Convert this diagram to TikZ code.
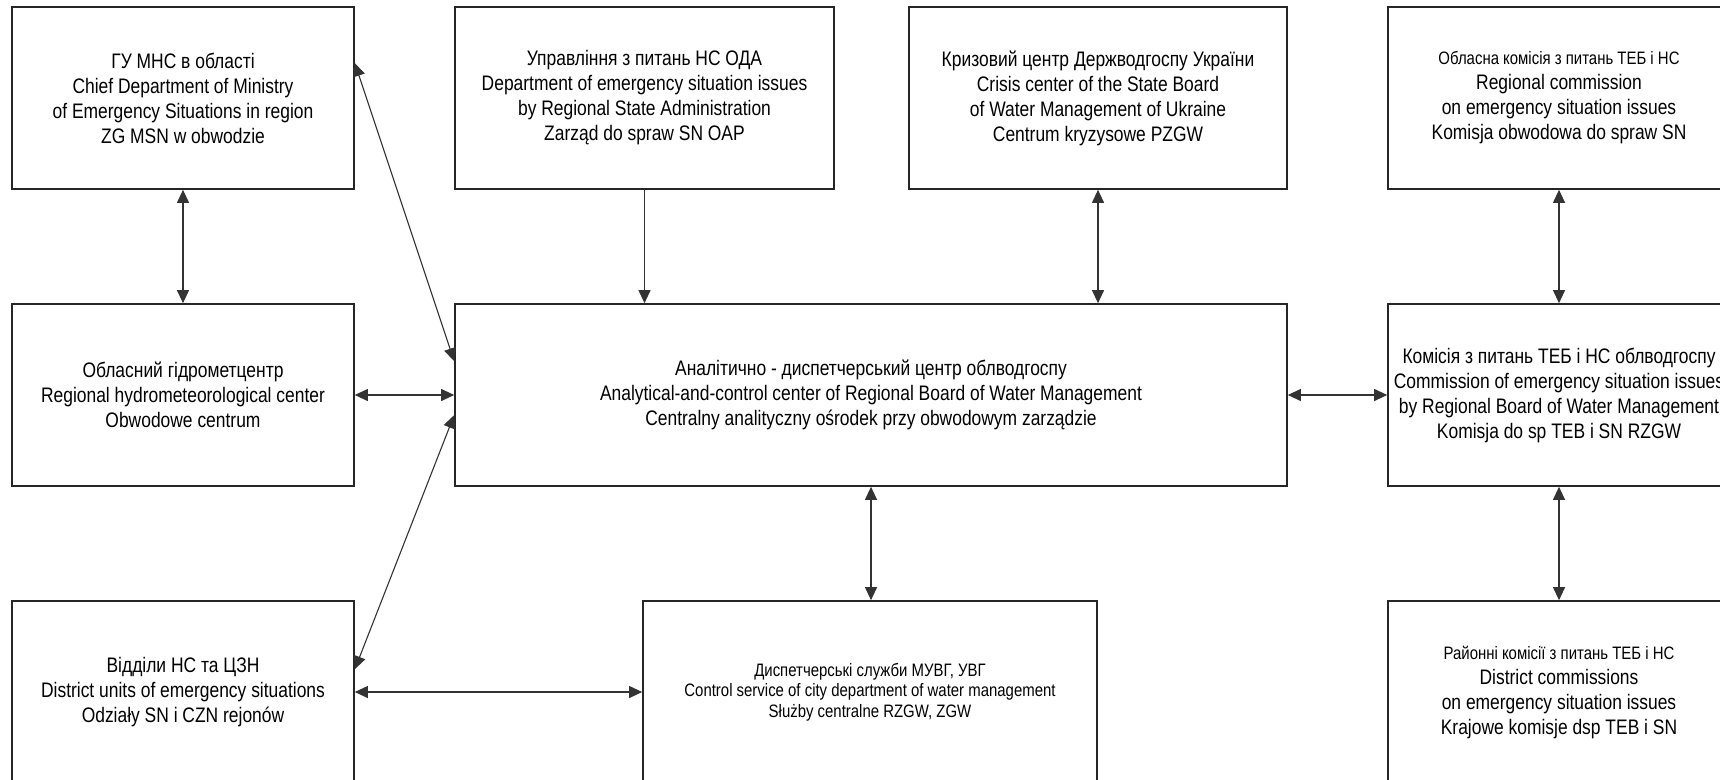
\documentclass[tikz,border=0pt]{standalone}
\usepackage{fontspec}
\setmainfont{Liberation Sans}[FakeStretch=0.83]
\usetikzlibrary{arrows.meta,calc}
\begin{document}
\begin{tikzpicture}[x=1pt,y=-1pt,
  box/.style={draw=black!85,line width=1.7pt,rectangle,inner sep=0pt,
    minimum height=182pt,align=center,
    font=\fontsize{21}{25}\selectfont},
  nbox/.style={box,minimum width=342pt},
  small/.style={font=\fontsize{18}{20.5}\selectfont},
  conn/.style={draw=black!80,line width=1.1pt},
  bi/.style={conn,{Triangle[length=13pt,width=12pt]}-{Triangle[length=13pt,width=12pt]}},
  uni/.style={conn,-{Triangle[length=13pt,width=12pt]}}]
\useasboundingbox (0,0) rectangle (1720,779);
\clip (0,0) rectangle (1720,779);
\fill[white] (0,0) rectangle (1720,779);

% top row
\node[nbox] (A) at (183,98) {ГУ МНС в області\\Chief Department of Ministry\\of Emergency Situations in region\\ZG MSN w obwodzie};
\node[box,minimum width=379pt] (B) at (644.5,98) {Управління з питань НС ОДА\\Department of emergency situation issues\\by Regional State Administration\\Zarząd do spraw SN OAP};
\node[box,minimum width=378pt] (G) at (1098,98) {Кризовий центр Держводгоспу України\\Crisis center of the State Board\\of Water Management of Ukraine\\Centrum kryzysowe PZGW};
\node[nbox] (H) at (1559,98) {{\fontsize{18}{25}\selectfont Обласна комісія з питань ТЕБ і НС}\\Regional commission\\on emergency situation issues\\Komisja obwodowa do spraw SN};

% middle row
\node[nbox] (D) at (183,395) {Обласний гідрометцентр\\Regional hydrometeorological center\\Obwodowe centrum};
\node[box,minimum width=832pt] (C) at (871,395) {Аналітично - диспетчерський центр облводгоспу\\Analytical-and-control center of Regional Board of Water Management\\Centralny analityczny ośrodek przy obwodowym zarządzie};
\node[nbox] (I) at (1559,395) {Комісія з питань ТЕБ і НС облводгоспу\\Commission of emergency situation issues\\by Regional Board of Water Management\\Komisja do sp TEB i SN RZGW};

% bottom row
\node[nbox] (E) at (183,692) {Відділи НС та ЦЗН\\District units of emergency situations\\Odziały SN i CZN rejonów};
\node[box,small,minimum width=454pt] (F) at (870,692) {Диспетчерські служби МУВГ, УВГ\\Control service of city department of water management\\Służby centralne RZGW, ZGW};
\node[nbox] (J) at (1559,692) {{\fontsize{18}{25}\selectfont Районні комісії з питань ТЕБ і НС}\\District commissions\\on emergency situation issues\\Krajowe komisje dsp TEB i SN};

% connectors
\coordinate (a1) at ($(A.north east)+(0,57)$);
\coordinate (c1) at ($(C.north west)+(0,58)$);
\coordinate (c2) at ($(C.north west)+(0,112)$);
\coordinate (e1) at ($(E.north east)+(0,69)$);

\draw[bi] (A.south) -- (D.north);
\draw[uni] (B.south) -- (B.south |- C.north);
\draw[bi] (G.south) -- (G.south |- C.north);
\draw[bi] (H.south) -- (I.north);
\draw[bi] (a1) -- (c1);
\draw[bi] (D.east) -- (D.east -| C.west);
\draw[bi] (c2) -- (e1);
\draw[bi] (E.east) -- (E.east -| F.west);
\draw[bi] (C.south) -- (C.south |- F.north);
\draw[bi] (C.east) -- (C.east -| I.west);
\draw[bi] (I.south) -- (J.north);
\end{tikzpicture}
\end{document}
